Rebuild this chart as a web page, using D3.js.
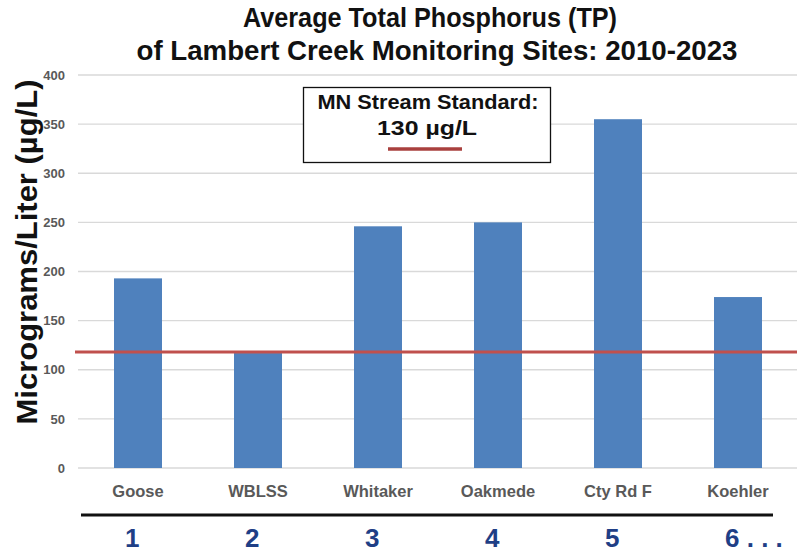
<!DOCTYPE html>
<html>
<head>
<meta charset="utf-8">
<script src="https://cdn.jsdelivr.net/npm/d3@7"></script>
<style>
  body { margin: 0; background: #fff; }
  svg { display: block; }
</style>
</head>
<body>
<div id="chart"></div>
<script>
// chart data
var sites = ["Goose", "WBLSS", "Whitaker", "Oakmede", "Cty Rd F", "Koehler"];
var siteNumbers = ["1", "2", "3", "4", "5", "6 . . ."];
var avgTP = [193, 117, 246, 250, 355, 174];
var yTicks = [0, 50, 100, 150, 200, 250, 300, 350, 400];
var standardLine = [118, 118];

var svgWidth = 797;
var svgHeight = 553;

var margin = { top: 75, right: -1, bottom: 85, left: 78 };
var chartWidth = svgWidth - margin.left - margin.right;
var chartHeight = svgHeight - margin.top - margin.bottom;

var fontFamily = "'Liberation Sans', Arial, sans-serif";

var svg = d3.select("#chart").append("svg")
  .attr("width", svgWidth).attr("height", svgHeight);

var chartGroup = svg.append("g")
  .attr("transform", `translate(${margin.left}, ${margin.top})`);

var xScale = d3.scaleBand().domain(sites).range([0, chartWidth]).paddingInner(0.6).paddingOuter(0.3);
var yScale = d3.scaleLinear().domain([0, 400]).range([chartHeight, 0]);

// gridlines
chartGroup.append("g").selectAll("line").data(yTicks).enter().append("line")
  .attr("x1", 0).attr("x2", chartWidth)
  .attr("y1", d => yScale(d)).attr("y2", d => yScale(d))
  .attr("stroke", "#d9d9d9").attr("stroke-width", 1.3);

// y axis tick labels
var leftAxis = d3.axisLeft(yScale).tickValues(yTicks).tickSize(0).tickPadding(13);
var yAxis = chartGroup.append("g").call(leftAxis);
yAxis.select(".domain").remove();
yAxis.selectAll("text")
  .attr("fill", "#595959")
  .style("font-family", fontFamily)
  .style("font-weight", "bold")
  .style("font-size", "13px");

// bars
chartGroup.selectAll("rect.bar").data(avgTP).enter().append("rect")
  .attr("class", "bar")
  .attr("x", (d, i) => xScale(sites[i]))
  .attr("width", xScale.bandwidth())
  .attr("y", d => yScale(d))
  .attr("height", d => chartHeight - yScale(d))
  .attr("fill", "#4f81bd");

// standard line
chartGroup.append("line")
  .attr("x1", -3).attr("x2", chartWidth)
  .attr("y1", yScale(standardLine[0])).attr("y2", yScale(standardLine[1]))
  .attr("stroke", "#c0504d").attr("stroke-width", 3);

// x category labels
var bottomAxis = d3.axisBottom(xScale).tickSize(0).tickPadding(17);
var xAxis = chartGroup.append("g").attr("transform", `translate(0, ${chartHeight})`).call(bottomAxis);
xAxis.select(".domain").remove();
xAxis.selectAll("text")
  .attr("fill", "#595959")
  .style("font-family", fontFamily)
  .style("font-weight", "bold")
  .style("font-size", "16.5px");

// black rule under labels
svg.append("line")
  .attr("x1", 81).attr("x2", 773)
  .attr("y1", 515).attr("y2", 515)
  .attr("stroke", "#111").attr("stroke-width", 3);

// site numbers
svg.append("g").selectAll("text").data(siteNumbers).enter().append("text")
  .attr("x", (d, i) => margin.left + xScale(sites[i]) + xScale.bandwidth() / 2 - 13)
  .attr("y", 547)
  .attr("text-anchor", "start")
  .attr("fill", "#1f3f86")
  .style("font-family", fontFamily)
  .style("font-weight", "bold")
  .style("font-size", "26px")
  .text(d => d);

// title
var title = svg.append("text")
  .attr("text-anchor", "middle")
  .attr("fill", "#111")
  .style("font-family", fontFamily)
  .style("font-weight", "bold")
  .style("font-size", "28px");
title.append("tspan").attr("x", 430).attr("y", 27)
  .attr("textLength", 374).attr("lengthAdjust", "spacingAndGlyphs")
  .text("Average Total Phosphorus (TP)");
title.append("tspan").attr("x", 437).attr("y", 60)
  .attr("textLength", 601).attr("lengthAdjust", "spacingAndGlyphs")
  .text("of Lambert Creek Monitoring Sites: 2010-2023");

// y axis title
svg.append("text")
  .attr("transform", "translate(37, 252) rotate(-90)")
  .attr("text-anchor", "middle")
  .attr("fill", "#111")
  .style("font-family", fontFamily)
  .style("font-weight", "bold")
  .style("font-size", "30px")
  .attr("textLength", 345).attr("lengthAdjust", "spacingAndGlyphs")
  .text("Micrograms/Liter (µg/L)");

// legend box
var legend = svg.append("g");
legend.append("rect")
  .attr("x", 303.5).attr("y", 87.5).attr("width", 247).attr("height", 75)
  .attr("fill", "#fff").attr("stroke", "#111").attr("stroke-width", 1.3);
legend.append("text")
  .attr("x", 428).attr("y", 109)
  .attr("text-anchor", "middle")
  .attr("fill", "#111")
  .style("font-family", fontFamily)
  .style("font-weight", "bold")
  .style("font-size", "21px")
  .attr("textLength", 221).attr("lengthAdjust", "spacingAndGlyphs")
  .text("MN Stream Standard:");
legend.append("text")
  .attr("x", 427).attr("y", 135)
  .attr("text-anchor", "middle")
  .attr("fill", "#111")
  .style("font-family", fontFamily)
  .style("font-weight", "bold")
  .style("font-size", "21px")
  .attr("textLength", 100).attr("lengthAdjust", "spacingAndGlyphs")
  .text("130 µg/L");
legend.append("line")
  .attr("x1", 388).attr("x2", 462)
  .attr("y1", 149).attr("y2", 149)
  .attr("stroke", "#a9403e").attr("stroke-width", 3.5);
</script>
</body>
</html>
